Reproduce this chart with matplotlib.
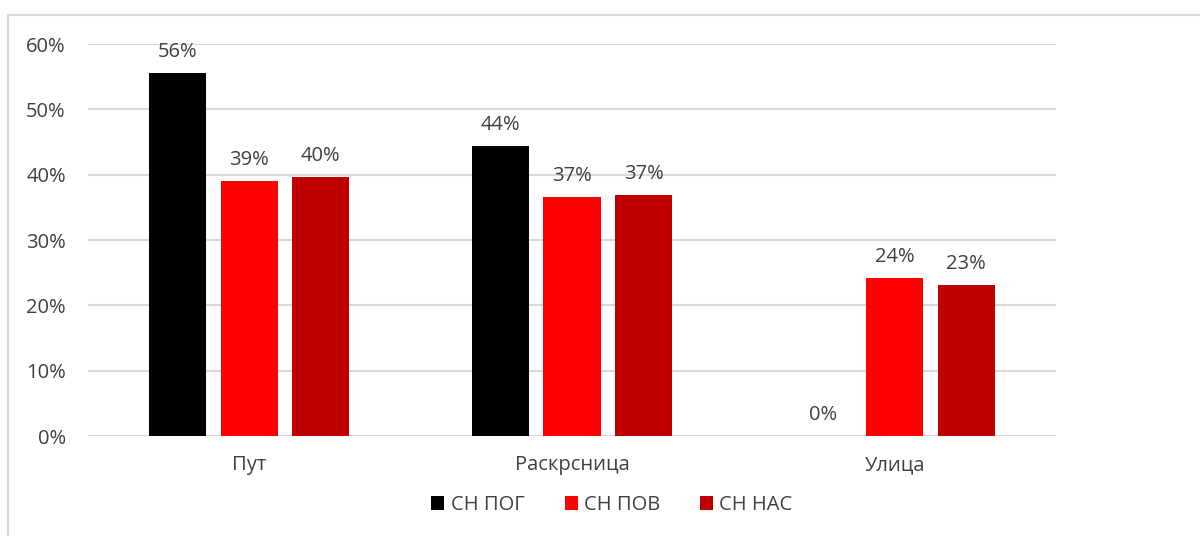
import numpy as np
import matplotlib.pyplot as plt
from matplotlib.patches import Rectangle

# chart data
categories = ["Пут", "Раскрсница", "Улица"]
series_names = ["СН ПОГ", "СН ПОВ", "СН НАС"]
sn_pog = [0.556, 0.444, 0.0]
sn_pov = [0.390, 0.366, 0.242]
sn_nas = [0.396, 0.369, 0.231]
yticks = [0.0, 0.1, 0.2, 0.3, 0.4, 0.5, 0.6]

colors = ["#000000", "#FF0000", "#C00000"]
text_color = "#404040"
grid_color = "#D9D9D9"
fs = 14.5

plt.rcParams["font.family"] = ["Open Sans", "DejaVu Sans"]

fig = plt.figure(figsize=(12, 5.36), dpi=100)
ax = fig.add_axes([88 / 1200, 100 / 536, 968 / 1200, 392 / 536])

# light frame around the chart area (cut off on right and bottom like the reference)
fig.patches.append(Rectangle((8 / 1200, -0.1), 1.2, (536 - 15) / 536 + 0.1,
                             transform=fig.transFigure, fill=False,
                             edgecolor=grid_color, linewidth=1.5, zorder=0))

x = np.arange(len(categories))
step = 0.2216
width = 0.177
for i, (vals, name) in enumerate(zip([sn_pog, sn_pov, sn_nas], series_names)):
    pos = x + (i - 1) * step
    ax.bar(pos, vals, width=width, color=colors[i], label=name, zorder=3)
    for px, v in zip(pos, vals):
        ax.annotate(f"{v * 100:.0f}%", (px, v), xytext=(0, 8), textcoords="offset points",
                    ha="center", va="bottom", fontsize=fs, color=text_color)

ax.set_xlim(-0.5, 2.5)
ax.set_ylim(0, 0.6)
ax.set_yticks(yticks)
ax.set_yticklabels([f"{t * 100:.0f}%" for t in yticks])
ax.set_xticks(x)
ax.set_xticklabels(categories)
ax.yaxis.grid(True, color=grid_color, linewidth=1.5, zorder=0)
ax.set_axisbelow(True)
for s in ax.spines.values():
    s.set_visible(False)
ax.tick_params(axis="both", length=0, labelsize=fs, labelcolor=text_color)
ax.tick_params(axis="y", pad=16)
ax.tick_params(axis="x", pad=14)

ax.legend(loc="center", bbox_to_anchor=(612 / 1200, 31 / 536), bbox_transform=fig.transFigure,
          ncol=3, frameon=False, fontsize=fs, labelcolor=text_color,
          handlelength=0.65, handleheight=0.65, handletextpad=0.3, columnspacing=2.0)

fig.savefig("out.png", dpi=100)
